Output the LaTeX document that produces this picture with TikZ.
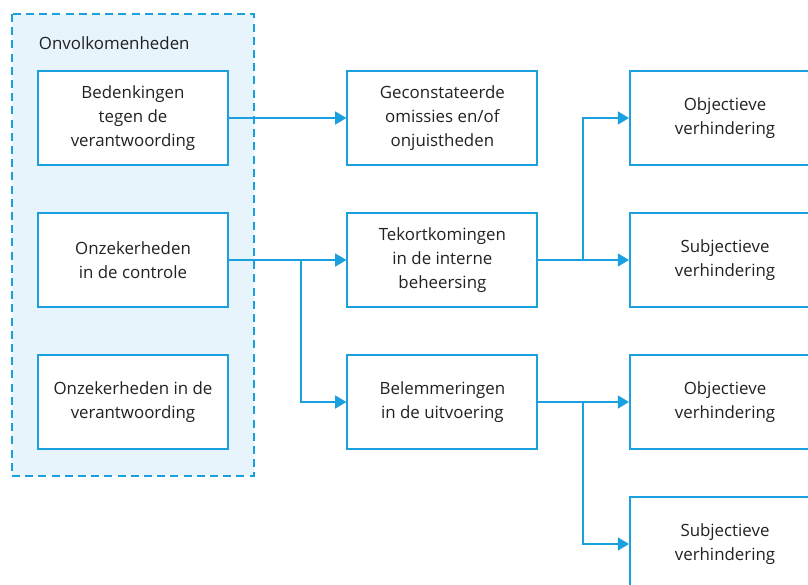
\documentclass[tikz,border=0pt]{standalone}
\usepackage{fontspec}
\setmainfont{Open Sans}
\usetikzlibrary{arrows.meta}
\definecolor{rijksblauw}{HTML}{1AA0DE}
\definecolor{lichtblauw}{HTML}{E7F4FC}
\definecolor{tekst}{HTML}{222222}
\begin{document}
\begin{tikzpicture}[
    box/.style={rectangle, draw=rijksblauw, line width=1.4pt, fill=white, minimum width=4.75cm, minimum height=2.35cm, align=center, text=tekst, font=\fontsize{12}{17}\selectfont},
    arrow/.style={-{Triangle[length=0.28cm, width=0.32cm]}, draw=rijksblauw, line width=1.4pt},
    line/.style={draw=rijksblauw, line width=1.4pt},
    label/.style={text=tekst, font=\fontsize{12}{17}\selectfont}
]
\useasboundingbox (0,0) rectangle (20.2,-14.6);
\clip (0,0) rectangle (20.2,-14.6);

% Groep onvolkomenheden
\draw[rijksblauw, fill=lichtblauw, line width=1.4pt, dash pattern=on 0.2cm off 0.13cm] (0.3,-0.35) rectangle (6.35,-11.9);
\node[label, anchor=west] (titel) at (0.85,-1.08) {Onvolkomenheden};

% Linkerkolom
\node[box] (bedenkingen) at (3.325,-2.95) {Bedenkingen\\tegen de\\verantwoording};
\node[box] (controle) at (3.325,-6.5) {Onzekerheden\\in de controle};
\node[box] (verantw) at (3.325,-10.05) {Onzekerheden in de\\verantwoording};

% Middenkolom
\node[box] (omissies) at (11.06,-2.95) {Geconstateerde\\omissies en/of\\onjuistheden};
\node[box] (tekort) at (11.06,-6.5) {Tekortkomingen\\in de interne\\beheersing};
\node[box] (belem) at (11.06,-10.05) {Belemmeringen\\in de uitvoering};

% Rechterkolom
\node[box] (obj1) at (18.125,-2.95) {Objectieve\\verhindering};
\node[box] (subj1) at (18.125,-6.5) {Subjectieve\\verhindering};
\node[box] (obj2) at (18.125,-10.05) {Objectieve\\verhindering};
\node[box] (subj2) at (18.125,-13.6) {Subjectieve\\verhindering};

% Vertakkingspunten
\coordinate (splits1) at (7.525,-6.5);
\coordinate (splits2) at (14.575,-6.5);
\coordinate (splits3) at (14.575,-10.05);

% Pijlen
\draw[arrow] (bedenkingen) -- (omissies);
\draw[arrow] (controle) -- (tekort);
\draw[arrow] (splits1) |- (belem);

\draw[line] (tekort) -- (splits2);
\draw[arrow] (splits2) |- (obj1);
\draw[arrow] (splits2) -- (subj1);

\draw[line] (belem) -- (splits3);
\draw[arrow] (splits3) -- (obj2);
\draw[arrow] (splits3) |- (subj2);

\end{tikzpicture}
\end{document}
